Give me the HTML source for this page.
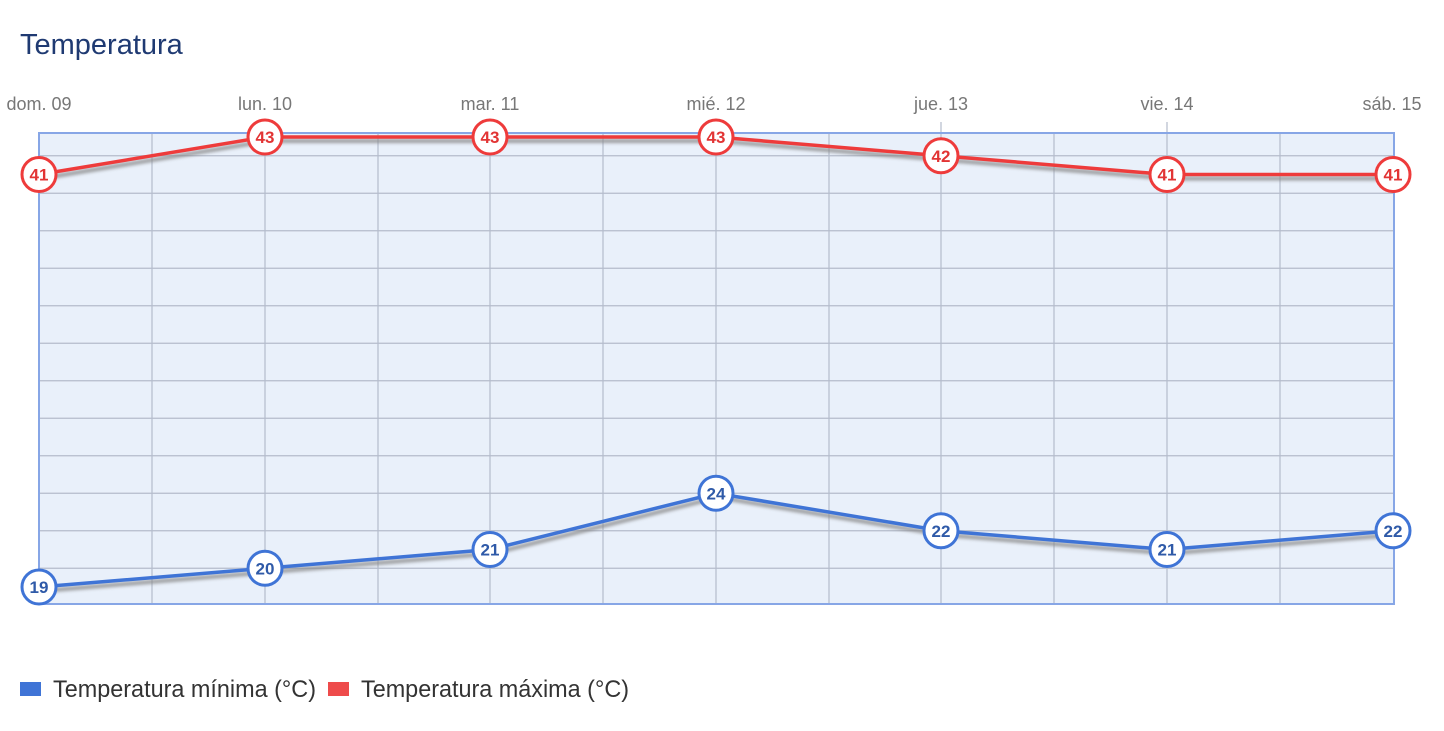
<!DOCTYPE html>
<html><head><meta charset="utf-8"><style>
html,body{margin:0;padding:0;background:#fff;}
svg{display:block;font-family:"Liberation Sans",sans-serif;}
</style></head><body>
<svg width="1444" height="731" viewBox="0 0 1444 731" xmlns="http://www.w3.org/2000/svg">
<defs><filter id="sh" x="-5%" y="-20%" width="110%" height="140%"><feGaussianBlur stdDeviation="1.5"/></filter></defs>
<text x="20" y="54" font-size="29" fill="#1f3a72">Temperatura</text>
<g font-size="18" fill="#777" text-anchor="middle">
<text x="39" y="110">dom. 09</text><text x="265" y="110">lun. 10</text><text x="490" y="110">mar. 11</text>
<text x="716" y="110">mié. 12</text><text x="941" y="110">jue. 13</text><text x="1167" y="110">vie. 14</text><text x="1392" y="110">sáb. 15</text>
</g>
<rect x="39" y="133" width="1355" height="471" fill="#e9f0fa"/>
<g stroke="#b4bccb" stroke-width="1.2">
<line x1="39" x2="1394" y1="155.75" y2="155.75"/><line x1="39" x2="1394" y1="193.25" y2="193.25"/><line x1="39" x2="1394" y1="230.75" y2="230.75"/><line x1="39" x2="1394" y1="268.25" y2="268.25"/><line x1="39" x2="1394" y1="305.75" y2="305.75"/><line x1="39" x2="1394" y1="343.25" y2="343.25"/><line x1="39" x2="1394" y1="380.75" y2="380.75"/><line x1="39" x2="1394" y1="418.25" y2="418.25"/><line x1="39" x2="1394" y1="455.75" y2="455.75"/><line x1="39" x2="1394" y1="493.25" y2="493.25"/><line x1="39" x2="1394" y1="530.75" y2="530.75"/><line x1="39" x2="1394" y1="568.25" y2="568.25"/>
<line x1="152" x2="152" y1="133" y2="604"/><line x1="265" x2="265" y1="122" y2="604"/><line x1="378" x2="378" y1="133" y2="604"/><line x1="490" x2="490" y1="122" y2="604"/><line x1="603" x2="603" y1="133" y2="604"/><line x1="716" x2="716" y1="122" y2="604"/><line x1="829" x2="829" y1="133" y2="604"/><line x1="941" x2="941" y1="122" y2="604"/><line x1="1054" x2="1054" y1="133" y2="604"/><line x1="1167" x2="1167" y1="122" y2="604"/><line x1="1280" x2="1280" y1="133" y2="604"/>
</g>
<rect x="39" y="133" width="1355" height="471" fill="none" stroke="#87a6e6" stroke-width="2"/>
<polyline points="39,174.5 265,137 490,137 716,137 941,155.75 1167,174.5 1393,174.5" fill="none" stroke="#888" stroke-width="4" transform="translate(2,4)" filter="url(#sh)" opacity="0.8"/>
<polyline points="39,587 265,568.25 490,549.5 716,493.25 941,530.75 1167,549.5 1393,530.75" fill="none" stroke="#888" stroke-width="4" transform="translate(2,4)" filter="url(#sh)" opacity="0.8"/>
<polyline points="39,174.5 265,137 490,137 716,137 941,155.75 1167,174.5 1393,174.5" fill="none" stroke="#ee3b3b" stroke-width="3.5"/>
<polyline points="39,587 265,568.25 490,549.5 716,493.25 941,530.75 1167,549.5 1393,530.75" fill="none" stroke="#3f74d6" stroke-width="3.5"/>
<g fill="#fff" stroke="#ee3b3b" stroke-width="3">
<circle cx="39" cy="174.5" r="17"/><circle cx="265" cy="137" r="17"/><circle cx="490" cy="137" r="17"/><circle cx="716" cy="137" r="17"/><circle cx="941" cy="155.75" r="17"/><circle cx="1167" cy="174.5" r="17"/><circle cx="1393" cy="174.5" r="17"/>
</g>
<g fill="#fff" stroke="#3f74d6" stroke-width="3">
<circle cx="39" cy="587" r="17"/><circle cx="265" cy="568.25" r="17"/><circle cx="490" cy="549.5" r="17"/><circle cx="716" cy="493.25" r="17"/><circle cx="941" cy="530.75" r="17"/><circle cx="1167" cy="549.5" r="17"/><circle cx="1393" cy="530.75" r="17"/>
</g>
<g font-size="17" font-weight="bold" fill="#e23434" text-anchor="middle">
<text x="39" y="180.5">41</text><text x="265" y="143">43</text><text x="490" y="143">43</text><text x="716" y="143">43</text><text x="941" y="161.75">42</text><text x="1167" y="180.5">41</text><text x="1393" y="180.5">41</text>
</g>
<g font-size="17" font-weight="bold" fill="#2f5aa8" text-anchor="middle">
<text x="39" y="593">19</text><text x="265" y="574.25">20</text><text x="490" y="555.5">21</text><text x="716" y="499.25">24</text><text x="941" y="536.75">22</text><text x="1167" y="555.5">21</text><text x="1393" y="536.75">22</text>
</g>
<rect x="20" y="682" width="21" height="14" fill="#3f74d6"/>
<text x="53" y="697" font-size="24" fill="#333" textLength="263" lengthAdjust="spacingAndGlyphs">Temperatura mínima (°C)</text>
<rect x="328" y="682" width="21" height="14" fill="#ee4b4b"/>
<text x="361" y="697" font-size="24" fill="#333" textLength="268" lengthAdjust="spacingAndGlyphs">Temperatura máxima (°C)</text>
</svg>
</body></html>
